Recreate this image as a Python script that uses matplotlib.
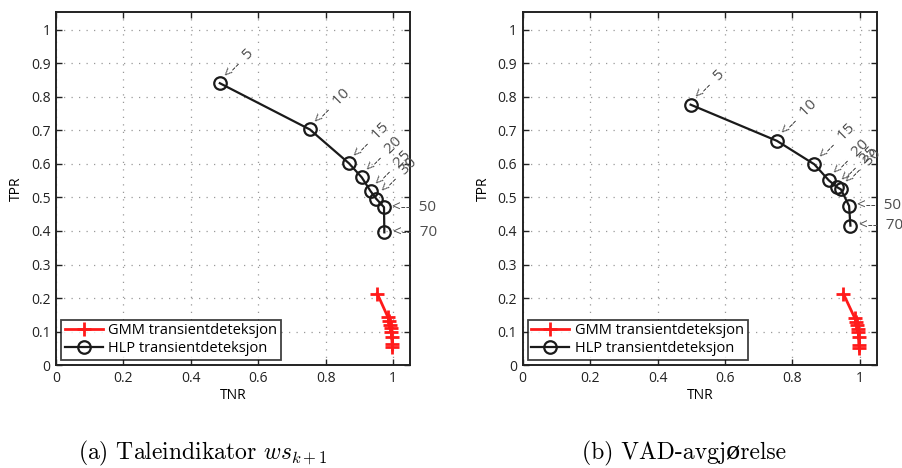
import numpy as np
import matplotlib as mpl
mpl.use("Agg")
from matplotlib import pyplot as plt
from matplotlib import ticker as ticker

# ---------------- data ----------------
window_labels = ['5', '10', '15', '20', '25', '30', '50', '70']

# (a) Taleindikator ws_{k+1}
hlp_tnr_a = [0.486, 0.753, 0.869, 0.907, 0.933, 0.950, 0.973, 0.974]
hlp_tpr_a = [0.841, 0.703, 0.602, 0.560, 0.519, 0.496, 0.471, 0.396]
gmm_tnr_a = [0.953, 0.985, 0.989, 0.992, 0.994, 0.995, 0.996, 0.997, 0.998]
gmm_tpr_a = [0.213, 0.142, 0.130, 0.120, 0.110, 0.100, 0.085, 0.062, 0.055]

# (b) VAD-avgjørelse
hlp_tnr_b = [0.498, 0.754, 0.865, 0.908, 0.932, 0.944, 0.968, 0.972]
hlp_tpr_b = [0.777, 0.669, 0.599, 0.551, 0.531, 0.524, 0.475, 0.416]
gmm_tnr_b = [0.951, 0.985, 0.989, 0.992, 0.994, 0.995, 0.996, 0.997, 0.998]
gmm_tpr_b = [0.213, 0.140, 0.128, 0.118, 0.108, 0.098, 0.085, 0.060, 0.052]

captions = [r'(a) Taleindikator $ws_{k+1}$', '(b) VAD-avgjørelse']
legend_names = ['GMM transientdeteksjon', 'HLP transientdeteksjon']

plt.rcParams['mathtext.fontset'] = 'cm'
plt.rcParams['font.family'] = ['Open Sans', 'DejaVu Sans']
plt.rcParams['xtick.direction'] = 'in'
plt.rcParams['ytick.direction'] = 'in'

fig = plt.figure(figsize=(9.03, 4.68), dpi=100)
ax_pos = [[0.062, 0.220, 0.392, 0.754], [0.5788, 0.220, 0.3921, 0.754]]
panels = [(hlp_tnr_a, hlp_tpr_a, gmm_tnr_a, gmm_tpr_a),
          (hlp_tnr_b, hlp_tpr_b, gmm_tnr_b, gmm_tpr_b)]
cap_x = [0.225, 0.757]

for i, (hx, hy, gx, gy) in enumerate(panels):
    ax = fig.add_axes(ax_pos[i])
    ax.plot(gx, gy, color='#ff1a1a', marker='+', markersize=10, markeredgewidth=2,
            linewidth=2, label=legend_names[0], zorder=3)
    ax.plot(hx, hy, color='#1a1a1a', marker='o', markersize=9, markerfacecolor='none',
            markeredgewidth=1.6, linewidth=1.6, label=legend_names[1], zorder=3)
    for lab, x, y in zip(window_labels, hx, hy):
        if lab in ('50', '70'):
            ax.annotate('<--  ' + lab, xy=(x, y), xytext=(6, 0), textcoords='offset points',
                        ha='left', va='center', fontsize=11, color='#4d4d4d')
        else:
            ax.annotate('<--  ' + lab, xy=(x, y), xytext=(5, 5), textcoords='offset points',
                        rotation=45, rotation_mode='anchor', ha='left', va='center',
                        fontsize=11, color='#4d4d4d')
    ax.set_xlim(0, 1.05)
    ax.set_ylim(0, 1.053)
    ax.set_xticks(np.arange(0, 1.01, 0.2))
    ax.set_yticks(np.arange(0, 1.01, 0.1))
    ax.xaxis.set_major_formatter(ticker.FormatStrFormatter('%g'))
    ax.yaxis.set_major_formatter(ticker.FormatStrFormatter('%g'))
    ax.tick_params(top=True, right=True, length=4, width=1, labelsize=10, pad=4, colors='#222222')
    ax.grid(True, linestyle=(0, (1, 5)), color='#999999', linewidth=0.9)
    for sp in ax.spines.values():
        sp.set_linewidth(1.4)
        sp.set_color('#222222')
    ax.set_xlabel('TNR', fontsize=10, labelpad=2)
    ax.set_ylabel('TPR', fontsize=10, labelpad=5)
    leg = ax.legend(loc='lower left', fontsize=10.5, frameon=True, fancybox=False,
                    borderaxespad=0.35, handlelength=2.6, borderpad=0.25,
                    labelspacing=0.2, handletextpad=0.4)
    leg.get_frame().set_edgecolor('#111111')
    leg.get_frame().set_linewidth(1.3)
    fig.text(cap_x[i], 0.032, captions[i], ha='center', va='center', fontsize=17,
             family=['cmr10', 'DejaVu Serif'])

plt.savefig('out.png', dpi=100, facecolor='w')
plt.close('all')
